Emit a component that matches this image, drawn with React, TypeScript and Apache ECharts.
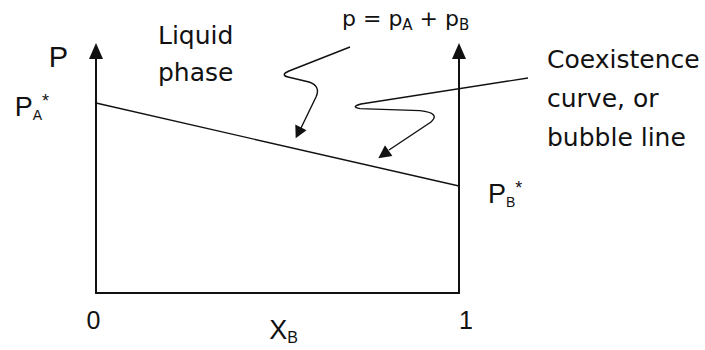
import { useEffect, useRef } from 'react';
import * as echarts from 'echarts';

// ---- data ----
const xTickValues = [0, 1];
const xTickLabels = ['0', '1'];
const moleFractionB = [0, 1];
const bubblePressure = [7.85, 4.42];
const endpointComponents = ['A', 'B'];
const yMin = 0;
const yMax = 10;

const liquidLabel = ['Liquid', 'phase'];
const coexistLabel = ['Coexistence', 'curve, or', 'bubble line'];

// ---- annotation arrow shapes (SVG path data) ----
const ARROW1 = 'M350 47 L289 71 Q280 75 288 77 L309 82 Q321 86 316 97 L301 128';
const ARROW2 = 'M528 78 L361 104 Q350 107 360 108.6 L420 110.6 Q441 113 431 122 L389 150';
const HEAD1 = [[295.7, 138.3], [306.5, 130.3], [295.3, 124.5]];
const HEAD2 = [[378.3, 158.3], [392.4, 156.1], [385, 145.3]];

const INK = '#111';
const SANS = 'Liberation Sans, Arial, sans-serif';
const ROUND = 'DejaVu Sans, sans-serif';

export default function App() {
  const ref = useRef<HTMLDivElement>(null);

  useEffect(() => {
    document.body.style.margin = '0';
    if (!ref.current) return;
    echarts.graphic.registerShape('curlyArrow1', echarts.graphic.extendPath(ARROW1, {}));
    echarts.graphic.registerShape('curlyArrow2', echarts.graphic.extendPath(ARROW2, {}));
    const chart = echarts.init(ref.current, null, { renderer: 'svg' });

    const endRich = {
      p: { fontSize: 27, fontFamily: SANS, color: INK, lineHeight: 30 },
      s: { fontSize: 14, fontFamily: SANS, color: INK, lineHeight: 8, verticalAlign: 'bottom' },
      t: { fontSize: 18, fontFamily: SANS, color: INK, lineHeight: 18, verticalAlign: 'top' },
    };

    const yAxisCommon = {
      type: 'value',
      min: yMin,
      max: yMax,
      axisLine: {
        show: true,
        symbol: ['none', 'triangle'],
        symbolSize: [14, 16],
        lineStyle: { color: INK, width: 2 },
      },
      axisTick: { show: false },
      axisLabel: { show: false },
      splitLine: { show: false },
    };

    const option = {
      animation: false,
      grid: { left: 96, right: 246, top: 51, bottom: 57, outerBoundsMode: 'none', containLabel: false },
      xAxis: {
        type: 'value',
        min: xTickValues[0],
        max: xTickValues[xTickValues.length - 1],
        interval: 1,
        axisLine: { show: true, onZero: false, lineStyle: { color: INK, width: 2 } },
        axisTick: { show: false },
        splitLine: { show: false },
        axisLabel: {
          margin: 14,
          formatter: (v: number) => {
            const i = xTickValues.indexOf(v);
            return i === 0 ? `{l|${xTickLabels[i]}}` : `{r|${xTickLabels[i]}}`;
          },
          rich: {
            l: { fontSize: 25, fontFamily: SANS, color: INK, padding: [0, 5, 0, 0] },
            r: { fontSize: 25, fontFamily: SANS, color: INK, padding: [0, 0, 0, 14] },
          },
        },
        name: '{x|X}{s|B}',
        nameLocation: 'middle',
        nameGap: 22,
        nameMoveOverlap: false,
        nameTextStyle: {
          padding: [0, 0, 0, 12],
          rich: {
            x: { fontSize: 27, fontFamily: SANS, color: INK, lineHeight: 30 },
            s: { fontSize: 16, fontFamily: SANS, color: INK, lineHeight: 8, verticalAlign: 'bottom' },
          },
        },
      },
      yAxis: [
        {
          ...yAxisCommon,
          position: 'left',
          name: 'P',
          nameLocation: 'end',
          nameGap: -6,
          nameTextStyle: {
            fontSize: 29,
            fontFamily: SANS,
            color: INK,
            align: 'right',
            verticalAlign: 'middle',
            padding: [0, 28, 0, 0],
          },
        },
        { ...yAxisCommon, position: 'right' },
      ],
      series: [
        {
          type: 'line',
          symbol: 'circle',
          symbolSize: 2,
          itemStyle: { color: INK },
          lineStyle: { color: INK, width: 1.4 },
          silent: true,
          clip: false,
          label: {
            show: true,
            formatter: (p: any) => `{p|P}{s|${endpointComponents[p.dataIndex]}}{t|*}`,
            rich: endRich,
          },
          data: [
            {
              value: [moleFractionB[0], bubblePressure[0]],
              label: { position: 'left', distance: 46, offset: [0, 4] },
            },
            {
              value: [moleFractionB[1], bubblePressure[1]],
              label: { position: 'right', distance: 28, offset: [0, 8] },
            },
          ],
        },
      ],
      graphic: [
        {
          type: 'text',
          x: 158,
          y: 16.5,
          silent: true,
          style: {
            text: liquidLabel.join('\n'),
            fontSize: 25,
            fontFamily: ROUND,
            lineHeight: 37,
            fill: INK,
            verticalAlign: 'top',
          },
        },
        {
          type: 'text',
          x: 342,
          y: 4,
          silent: true,
          style: {
            text: '{p|p = p}{s|A}{p| + p}{s|B}',
            verticalAlign: 'top',
            rich: {
              p: { fontSize: 22, fontFamily: ROUND, fill: INK, lineHeight: 28 },
              s: { fontSize: 15, fontFamily: ROUND, fill: INK, lineHeight: 16, verticalAlign: 'bottom' },
            },
          },
        },
        {
          type: 'text',
          x: 547,
          y: 39.5,
          silent: true,
          style: {
            text: coexistLabel.join('\n'),
            fontSize: 25,
            fontFamily: ROUND,
            lineHeight: 39,
            fill: INK,
            verticalAlign: 'top',
          },
        },
        {
          type: 'curlyArrow1',
          x: 0,
          y: 0,
          silent: true,
          style: { stroke: INK, lineWidth: 1.4, fill: 'none' },
        },
        {
          type: 'curlyArrow2',
          x: 0,
          y: 0,
          silent: true,
          style: { stroke: INK, lineWidth: 1.4, fill: 'none' },
        },
        { type: 'polygon', silent: true, shape: { points: HEAD1 }, style: { fill: INK } },
        { type: 'polygon', silent: true, shape: { points: HEAD2 }, style: { fill: INK } },
      ],
    };

    chart.setOption(option as any);
    return () => chart.dispose();
  }, []);

  return <div ref={ref} style={{ width: 705, height: 350 }} />;
}
